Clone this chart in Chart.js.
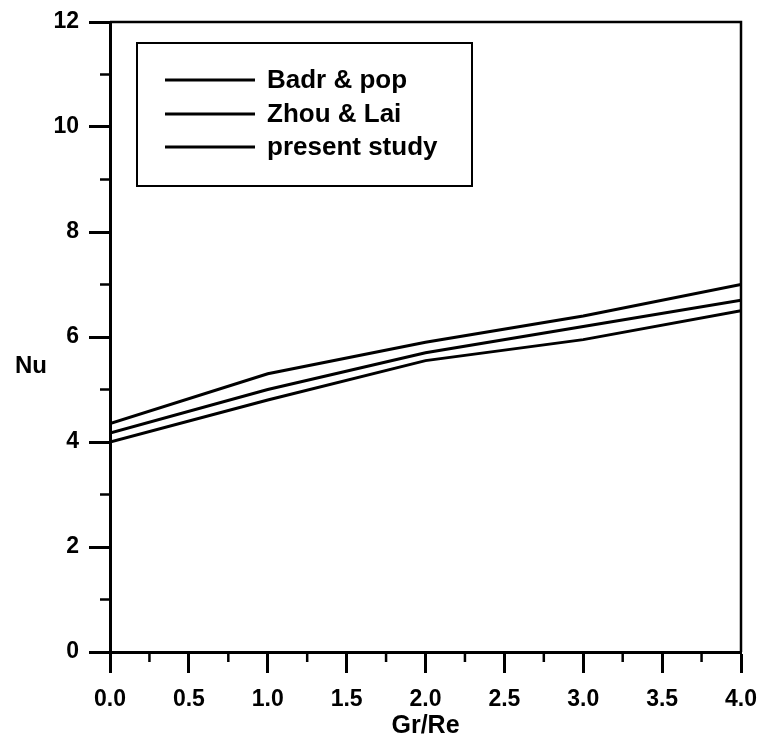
<!DOCTYPE html>
<html>
<head>
<meta charset="utf-8">
<title>Nu vs Gr/Re</title>
<script src="https://cdn.jsdelivr.net/npm/chart.js@4.4.1/dist/chart.umd.min.js"></script>
<style>
  html, body { margin: 0; padding: 0; background: #fff; }
  #wrap { width: 761px; height: 745px; }
</style>
</head>
<body>
<div id="wrap"><canvas id="nuChart" width="761" height="745"></canvas></div>
<script>
// Data
const grRe = [0, 1, 2, 3, 4];
const badrPop = [4.35, 5.3, 5.9, 6.4, 7.0];
const zhouLai = [4.17, 5.0, 5.7, 6.2, 6.7];
const presentStudy = [4.0, 4.8, 5.55, 5.95, 6.5];
const seriesNames = ['Badr & pop', 'Zhou & Lai', 'present study'];

const xMinorTicks = [0.25, 0.75, 1.25, 1.75, 2.25, 2.75, 3.25, 3.75];
const yMinorTicks = [1, 3, 5, 7, 9, 11];

const FONT = '"Liberation Sans", Arial, sans-serif';

function toPoints(ys) {
  return grRe.map((x, i) => ({ x: x, y: ys[i] }));
}

// frame, minor ticks, legend box and the "Nu" label
const decorPlugin = {
  id: 'decor',
  afterDraw(chart) {
    const ctx = chart.ctx;
    const area = chart.chartArea;
    const xs = chart.scales.x;
    const ys = chart.scales.y;

    ctx.save();
    ctx.strokeStyle = '#000';
    ctx.lineCap = 'butt';

    // top and right border
    ctx.lineWidth = 2.5;
    ctx.beginPath();
    ctx.moveTo(area.left, area.top);
    ctx.lineTo(area.right, area.top);
    ctx.lineTo(area.right, area.bottom);
    ctx.stroke();

    // minor ticks
    ctx.beginPath();
    xMinorTicks.forEach(v => {
      const px = xs.getPixelForValue(v);
      ctx.moveTo(px, area.bottom);
      ctx.lineTo(px, area.bottom + 10);
    });
    yMinorTicks.forEach(v => {
      const py = ys.getPixelForValue(v);
      ctx.moveTo(area.left, py);
      ctx.lineTo(area.left - 10, py);
    });
    ctx.stroke();

    // legend
    ctx.lineWidth = 2;
    ctx.strokeRect(137, 43, 335, 143);
    const rows = [80, 114, 147];
    ctx.font = 'bold 26px ' + FONT;
    ctx.fillStyle = '#000';
    ctx.textBaseline = 'middle';
    ctx.textAlign = 'left';
    chart.data.datasets.forEach((ds, i) => {
      ctx.lineWidth = 3;
      ctx.beginPath();
      ctx.moveTo(165, rows[i]);
      ctx.lineTo(255, rows[i]);
      ctx.stroke();
      ctx.fillText(ds.label, 267, rows[i] + 1);
    });

    // y title, horizontal
    ctx.font = 'bold 24px ' + FONT;
    ctx.textAlign = 'center';
    ctx.fillText('Nu', 31, 366);
    ctx.restore();
  }
};

const lineStyle = {
  borderColor: '#000',
  borderWidth: 3,
  pointRadius: 0,
  fill: false,
  tension: 0
};

new Chart(document.getElementById('nuChart'), {
  type: 'line',
  data: {
    datasets: [
      { label: seriesNames[0], data: toPoints(badrPop), ...lineStyle },
      { label: seriesNames[1], data: toPoints(zhouLai), ...lineStyle },
      { label: seriesNames[2], data: toPoints(presentStudy), ...lineStyle }
    ]
  },
  options: {
    responsive: false,
    animation: false,
    layout: { padding: { top: 22, right: 20, left: 0, bottom: 0 } },
    plugins: {
      legend: { display: false },
      tooltip: { enabled: false }
    },
    scales: {
      x: {
        type: 'linear',
        min: 0,
        max: 4,
        afterFit(scale) {
          scale.height = 93;
          scale.paddingLeft = 0;
          scale.paddingRight = 0;
        },
        border: { display: true, color: '#000', width: 3 },
        grid: {
          drawOnChartArea: false,
          drawTicks: true,
          tickLength: 21,
          tickColor: '#000',
          tickWidth: 3
        },
        ticks: {
          stepSize: 0.5,
          padding: 13,
          color: '#000',
          font: { family: FONT, size: 23, weight: 'bold' },
          callback: v => v.toFixed(1)
        },
        title: {
          display: true,
          text: 'Gr/Re',
          color: '#000',
          font: { family: FONT, size: 25, weight: 'bold' },
          padding: { top: 0 }
        }
      },
      y: {
        min: 0,
        max: 12,
        afterFit(scale) {
          scale.width = 110;
          scale.paddingTop = 0;
          scale.paddingBottom = 0;
        },
        border: { display: true, color: '#000', width: 3 },
        grid: {
          drawOnChartArea: false,
          drawTicks: true,
          tickLength: 21,
          tickColor: '#000',
          tickWidth: 3
        },
        ticks: {
          stepSize: 2,
          padding: 10,
          color: '#000',
          font: { family: FONT, size: 23, weight: 'bold' }
        }
      }
    }
  },
  plugins: [decorPlugin]
});
</script>
</body>
</html>
